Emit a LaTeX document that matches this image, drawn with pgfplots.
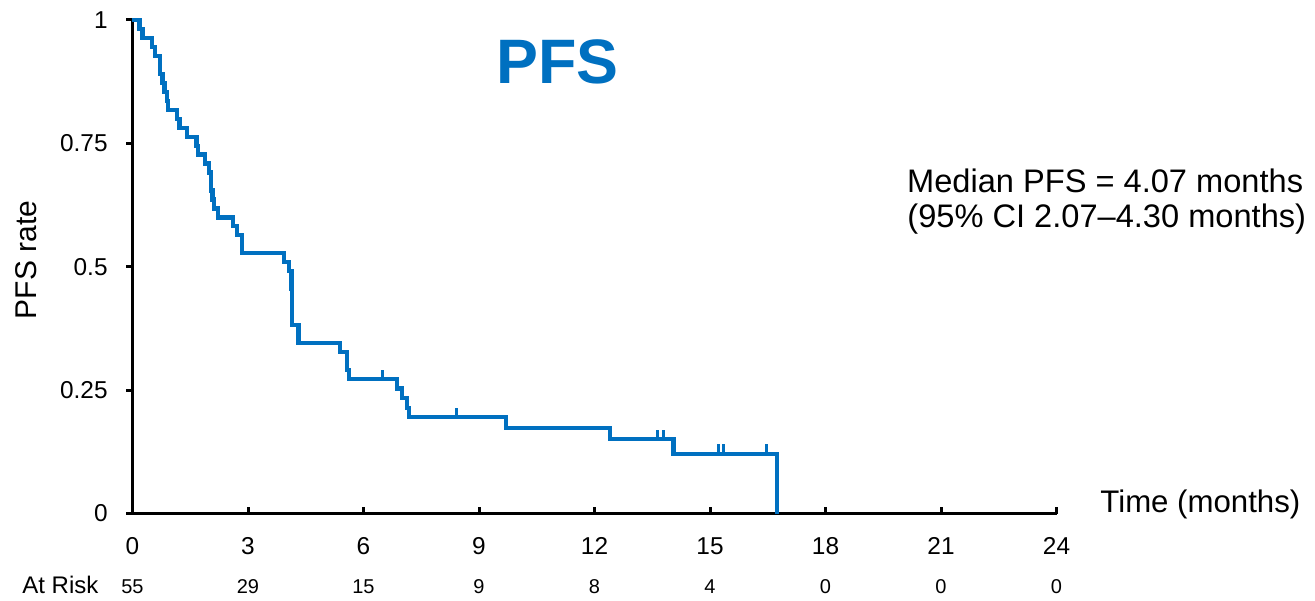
\documentclass[border=0pt]{standalone}
\usepackage{fontspec}
\setmainfont{Liberation Sans}
\usepackage{pgfplots}
\pgfplotsset{compat=1.18}
\definecolor{kmblue}{RGB}{0,112,192}
\pgfdeclareplotmark{cens}{\pgfpathmoveto{\pgfpoint{0pt}{0pt}}\pgfpathlineto{\pgfpoint{0pt}{4.6pt}}\pgfusepathqstroke}
\begin{document}
\begin{tikzpicture}
\begin{axis}[
  at={(0,0)}, anchor=south west, scale only axis,
  width=462pt, height=246.75pt,
  xmin=0, xmax=24, ymin=0, ymax=1,
  clip=false,
  axis lines=left,
  axis line style={-, line width=1.6pt, black},
  xtick={0,3,6,9,12,15,18,21,24},
  xticklabels={0,3,6,9,12,15,18,21,24},
  ytick={0,0.25,0.5,0.75,1},
  yticklabels={0,0.25,0.5,0.75,1},
  /pgf/number format/assume math mode=true,
  tick align=inside,
  major tick length=3.2pt,
  every tick/.style={black, line width=1.5pt},
  y tick style={xshift=-3.2pt},
  ticklabel style={font=\fontsize{12.2}{14}\selectfont, inner sep=0pt},
  xticklabel style={anchor=north, yshift=-11.75pt},
  yticklabel style={anchor=east, xshift=-12.25pt},
]
\addplot[const plot, color=kmblue, line width=2.1pt, mark=none] coordinates {
(0,1)
(0.18,0.98182)
(0.26,0.96364)
(0.51,0.94545)
(0.58,0.92727)
(0.71,0.89091)
(0.78,0.87273)
(0.83,0.85455)
(0.89,0.83636)
(0.93,0.81818)
(1.15,0.8)
(1.22,0.78182)
(1.42,0.76364)
(1.66,0.74545)
(1.70,0.72727)
(1.88,0.70909)
(1.99,0.69091)
(2.03,0.65455)
(2.08,0.63636)
(2.12,0.61818)
(2.23,0.6)
(2.62,0.58182)
(2.72,0.56364)
(2.84,0.52727)
(3.94,0.50909)
(4.07,0.49091)
(4.13,0.45455)
(4.15,0.38182)
(4.31,0.34545)
(5.39,0.32727)
(5.58,0.29091)
(5.63,0.27273)
(6.88,0.25325)
(6.99,0.23377)
(7.12,0.21429)
(7.18,0.19481)
(9.70,0.17316)
(12.40,0.15152)
(14.05,0.12121)
(16.73,0)
};
\addplot[only marks, color=kmblue, mark=cens, mark options={line width=1.6pt, solid}] coordinates {
(6.49,0.27273)
(8.42,0.19481)
(13.63,0.15152)
(13.79,0.15152)
(15.22,0.12121)
(15.35,0.12121)
(16.47,0.12121)
};
\foreach \xx/\nn in {0/55,3/29,6/15,9/9,12/8,15/4,18/0,21/0,24/0} {
  \edef\temp{\noexpand\node[anchor=base, inner sep=0pt, font=\noexpand\fontsize{10}{12}\noexpand\selectfont] at (axis cs:\xx,-0.1631) {\nn};}
  \temp
}
\end{axis}
\node[anchor=base, inner sep=0pt, text=kmblue, font=\fontsize{31.4}{36}\selectfont\bfseries] at (212.5pt,215pt) {PFS};
\node[anchor=base east, inner sep=0pt, font=\fontsize{16.3}{18}\selectfont] at (585.5pt,160.75pt) {Median PFS = 4.07 months};
\node[anchor=base east, inner sep=0pt, font=\fontsize{16.3}{18}\selectfont] at (587pt,142.75pt) {(95\% CI 2.07–4.30 months)};
\node[anchor=base west, inner sep=0pt, font=\fontsize{15.6}{18}\selectfont] at (483.75pt,0.75pt) {Time (months)};
\node[anchor=base, rotate=90, inner sep=0pt, font=\fontsize{15}{18}\selectfont] at (-47.75pt,126.75pt) {PFS rate};
\node[anchor=base west, inner sep=0pt, font=\fontsize{12}{14}\selectfont] at (-55.25pt,-39.75pt) {At Risk};
\pgfresetboundingbox
\path[use as bounding box] (-66.25pt,-43.25pt) rectangle (591.25pt,256.75pt);
\end{tikzpicture}
\end{document}
